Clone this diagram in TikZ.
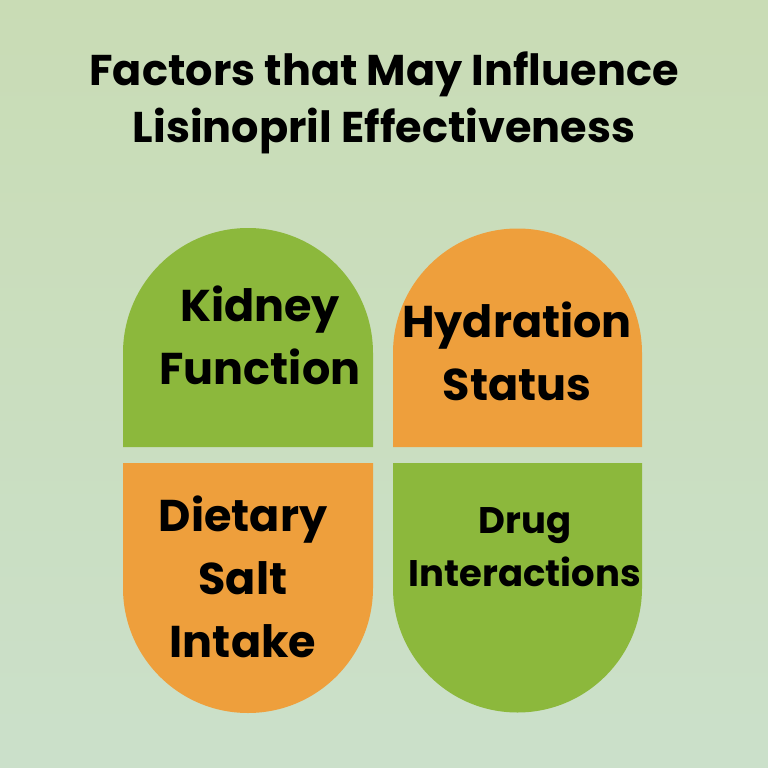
\documentclass[tikz,border=0pt]{standalone}
\usepackage{fontspec}
\setmainfont{Poppins}
\definecolor{pg}{HTML}{8CB83C}
\definecolor{po}{HTML}{EE9F3C}
\definecolor{bgt}{HTML}{C9DCB5}
\definecolor{bgb}{HTML}{CBE0CA}
\begin{document}
\begin{tikzpicture}[x=1pt,y=-1pt,
  lbl/.style={font=\fontsize{44.5}{63}\selectfont\bfseries,align=center,text=black},
  sml/.style={font=\fontsize{37}{53}\selectfont\bfseries,align=center,text=black}]
\shade[top color=bgt,bottom color=bgb] (0,0) rectangle (768,768);
\useasboundingbox (0,0) rectangle (768,768);
\node[font=\fontsize{43}{57}\selectfont\bfseries,align=center] (title) at (384,103) {Factors that May Influence\\Lisinopril Effectiveness};
\fill[pg] (123,447) -- (123,353) arc (180:360:125) -- (373,447) -- cycle;
\fill[po] (393,447) -- (393,353) arc (180:360:124.5) -- (642,447) -- cycle;
\fill[po] (123,463) -- (123,588) arc (180:0:125) -- (373,463) -- cycle;
\fill[pg] (393,463) -- (393,588) arc (180:0:124.5) -- (642,463) -- cycle;
\node[lbl] (k) at (260,335) {Kidney\\Function};
\node[lbl] (h) at (517,351) {Hydration\\Status};
\node[lbl] (d) at (243,577) {Dietary\\Salt\\Intake};
\node[sml] (g) at (525,547) {Drug\\Interactions};
\end{tikzpicture}
\end{document}
